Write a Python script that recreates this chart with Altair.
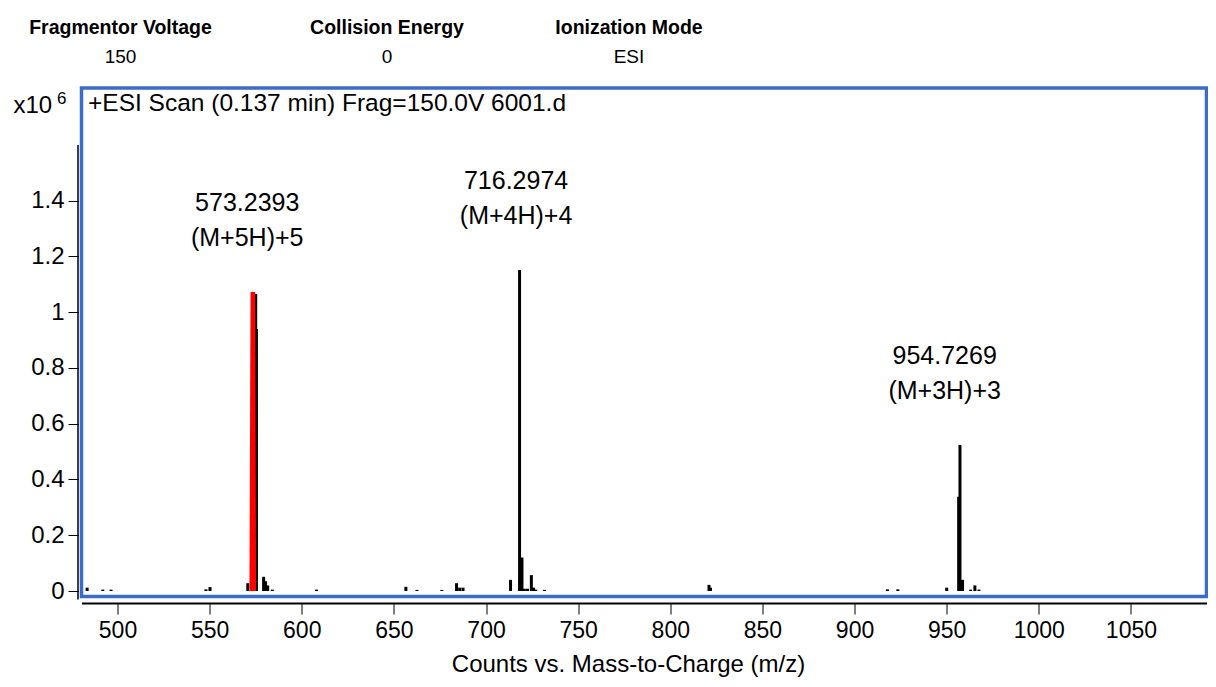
import altair as alt
import pandas as pd

# ---- data ----
stick_mz = [483.5, 492.0, 496.5, 548.0, 550.2, 570.7, 575.0, 575.4, 579.3, 580.3, 581.5, 584.0,
            608.0, 656.5, 662.5, 676.0, 684.0, 685.7, 687.5, 713.3, 718.2, 719.5, 720.8,
            722.5, 724.6, 725.8, 727.0, 731.7, 821.0, 821.8, 917.8, 923.5, 950.0, 956.5,
            957.2, 958.6, 963.0, 965.3, 967.5]
stick_int = [0.012, 0.005, 0.005, 0.006, 0.014, 0.028, 1.065, 0.94, 0.051, 0.035, 0.02, 0.005,
             0.005, 0.015, 0.004, 0.004, 0.028, 0.012, 0.012, 0.04, 1.151, 0.12, 0.008,
             0.008, 0.057, 0.012, 0.005, 0.004, 0.022, 0.012, 0.006, 0.006, 0.012, 0.338,
             0.524, 0.04, 0.005, 0.02, 0.005]

red_mz = [571.6, 572.2, 574.7, 575.2]
red_int = [0.0, 1.072, 1.072, 0.0]

label_mz = [570.4, 716.3, 948.9]
label_int = [1.072, 1.151, 0.524]
label_mass = ["573.2393", "716.2974", "954.7269"]
label_ion = ["(M+5H)+5", "(M+4H)+4", "(M+3H)+3"]

x_ticks = [500, 550, 600, 650, 700, 750, 800, 850, 900, 950, 1000, 1050]
y_ticks = [0, 0.2, 0.4, 0.6, 0.8, 1.0, 1.2, 1.4]

header_names = ["Fragmentor Voltage", "Collision Energy", "Ionization Mode"]
header_values = ["150", "0", "ESI"]
header_px = [39, 305.5, 547.5]

ARIAL = "Liberation Sans, Arial, sans-serif"

W, H = 1125, 508.5
xscale = alt.Scale(domain=[480.46, 1091.0], nice=False, zero=False)
yscale = alt.Scale(domain=[-0.0197, 1.804], nice=False, zero=False)

sticks_df = pd.DataFrame({"mz": stick_mz, "intensity": stick_int})
red_df = pd.DataFrame({"mz": red_mz, "intensity": red_int})
lab_df = pd.DataFrame({"mz": label_mz, "intensity": label_int,
                       "mass": label_mass, "ion": label_ion})
head_df = pd.DataFrame({"name": header_names, "value": header_values, "px": header_px})

xaxis = alt.Axis(values=x_ticks, format="d", grid=False, domainColor="black", domainWidth=2,
                 offset=6.5, tickSize=11, tickColor="black", tickWidth=1,
                 labelFont=ARIAL, labelFontSize=23, labelColor="black", labelPadding=5,
                 title="Counts vs. Mass-to-Charge (m/z)", titleFont=ARIAL, titleFontSize=24,
                 titleFontWeight="normal", titleColor="black", titleX=546.5, titleY=68.5,
                 titleBaseline="alphabetic", labelFlush=False)
yaxis = alt.Axis(values=y_ticks, format="~g", grid=False, domain=False, offset=3.5,
                 tickSize=10, tickColor="black", tickWidth=1, labelFont=ARIAL,
                 labelFontSize=24, labelColor="black", labelPadding=4, title=None)

sticks = alt.Chart(sticks_df).mark_rule(color="black", strokeWidth=3).encode(
    x=alt.X("mz:Q", scale=xscale, axis=xaxis),
    y=alt.Y("intensity:Q", scale=yscale, axis=yaxis),
    y2=alt.datum(0),
)

red = alt.Chart(red_df).mark_area(color="#ff0000", opacity=1).encode(
    x=alt.X("mz:Q", scale=xscale),
    y=alt.Y("intensity:Q", scale=yscale),
)

lab1 = alt.Chart(lab_df).mark_text(font=ARIAL, fontSize=25, color="black", dy=-89,
                                   baseline="middle", align="center").encode(
    x=alt.X("mz:Q", scale=xscale), y=alt.Y("intensity:Q", scale=yscale), text="mass:N")
lab2 = alt.Chart(lab_df).mark_text(font=ARIAL, fontSize=25, color="black", dy=-54,
                                   baseline="middle", align="center").encode(
    x=alt.X("mz:Q", scale=xscale), y=alt.Y("intensity:Q", scale=yscale), text="ion:N")

yline = alt.Chart(pd.DataFrame({"v": [1.6]})).mark_rule(color="black", strokeWidth=1.5).encode(
    x=alt.value(-3.5), y=alt.Y("v:Q", scale=yscale), y2=alt.value(H + 3))

head1 = alt.Chart(head_df).mark_text(font=ARIAL, fontSize=19.5, fontWeight="bold", color="black",
                                     baseline="middle", align="center", y=-60).encode(
    x=alt.X("px:Q", scale=None), text="name:N")
head2 = alt.Chart(head_df).mark_text(font=ARIAL, fontSize=19, color="black",
                                     baseline="middle", align="center", y=-31).encode(
    x=alt.X("px:Q", scale=None), text="value:N")

scan = alt.Chart(pd.DataFrame({"t": ["+ESI Scan (0.137 min) Frag=150.0V 6001.d"]})).mark_text(
    font=ARIAL, fontSize=24.5, color="black", align="left", baseline="middle", x=6.5, y=16).encode(
    text="t:N")
x10 = alt.Chart(pd.DataFrame({"t": ["x10"]})).mark_text(
    font=ARIAL, fontSize=24, color="black", align="left", baseline="middle", x=-68, y=18).encode(
    text="t:N")
six = alt.Chart(pd.DataFrame({"t": ["6"]})).mark_text(
    font=ARIAL, fontSize=17, color="black", align="left", baseline="middle", x=-24.5, y=11).encode(
    text="t:N")

chart = alt.layer(sticks, red, lab1, lab2, yline, head1, head2, scan, x10, six).properties(
    width=W, height=H, autosize="none", background="white",
    padding={"left": 73.5, "top": 80, "right": 1.5, "bottom": 82},
).configure_view(stroke="#3b6cc9", strokeWidth=3.5)

chart.save("out.html", embed_options={"renderer": "svg", "actions": False})
